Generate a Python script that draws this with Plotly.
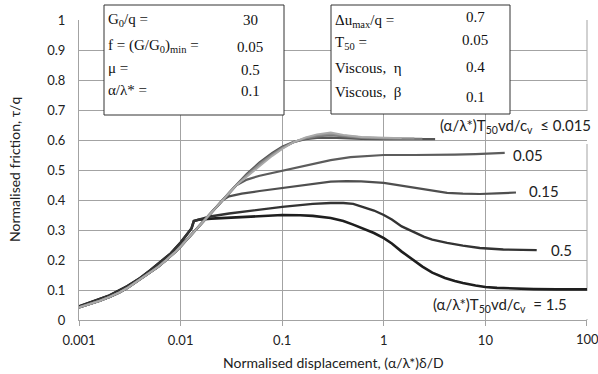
import plotly.graph_objects as go

# ---------------- data ----------------
x_ticks = [0.001, 0.01, 0.1, 1, 10, 100]
x_tick_text = ["0.001", "0.01", "0.1", "1", "10", "100"]
y_ticks = [0, 0.1, 0.2, 0.3, 0.4, 0.5, 0.6, 0.7, 0.8, 0.9, 1]
y_tick_text = ["0", "0.1", "0.2", "0.3", "0.4", "0.5", "0.6", "0.7", "0.8", "0.9", "1"]

# common rising branch (grey bundle)
x_rise = [0.001, 0.0013, 0.0016, 0.002, 0.0025, 0.003, 0.004, 0.005, 0.006, 0.007, 0.008, 0.009,
          0.01, 0.012, 0.014, 0.017, 0.02, 0.023, 0.026, 0.03, 0.035]
y_rise = [0.042, 0.053, 0.064, 0.077, 0.092, 0.107, 0.135, 0.158, 0.177, 0.196, 0.213, 0.229,
          0.245, 0.274, 0.300, 0.331, 0.358, 0.380, 0.400, 0.423, 0.448]

# rising branch for the dark (high rate) curves
x_rise_dark = [0.001, 0.0015, 0.002, 0.003, 0.004, 0.005, 0.0065, 0.008, 0.01, 0.012, 0.0128, 0.0135, 0.015]
y_rise_dark = [0.045, 0.066, 0.082, 0.113, 0.140, 0.165, 0.196, 0.222, 0.258, 0.290, 0.305, 0.330, 0.334]

# rate <= 0.015 bundle (several nearly coincident curves)
x_b1 = [0.045, 0.06, 0.08, 0.1, 0.13, 0.17, 0.22, 0.3, 0.4, 0.6, 1, 2, 3.2]
y_b1 = [0.487, 0.525, 0.557, 0.577, 0.594, 0.603, 0.607, 0.608, 0.606, 0.604, 0.603, 0.603, 0.603]
x_b2 = [0.045, 0.06, 0.08, 0.1, 0.13, 0.17, 0.22, 0.3, 0.4, 0.6, 1, 2.4]
y_b2 = [0.484, 0.521, 0.553, 0.574, 0.593, 0.605, 0.612, 0.616, 0.612, 0.607, 0.605, 0.604]
x_b3 = [0.045, 0.06, 0.08, 0.1, 0.13, 0.17, 0.22, 0.3, 0.4, 0.6, 1, 2.0]
y_b3 = [0.481, 0.518, 0.550, 0.572, 0.593, 0.607, 0.616, 0.621, 0.615, 0.609, 0.606, 0.605]
x_b4 = [0.045, 0.06, 0.08, 0.1, 0.13, 0.17, 0.22, 0.3, 0.4, 0.6, 1, 1.5]
y_b4 = [0.478, 0.515, 0.547, 0.570, 0.593, 0.609, 0.619, 0.625, 0.617, 0.610, 0.607, 0.606]

# rate 0.05
x_r005 = [0.045, 0.06, 0.08, 0.1, 0.15, 0.2, 0.3, 0.47, 0.7, 1, 2, 3, 5, 8, 15.5]
y_r005 = [0.468, 0.481, 0.490, 0.497, 0.510, 0.520, 0.533, 0.543, 0.548, 0.550, 0.550, 0.550, 0.551, 0.553, 0.557]

# rate 0.15
x_r015 = [0.03, 0.04, 0.06, 0.1, 0.15, 0.2, 0.3, 0.43, 0.6, 1, 1.4, 1.94, 3, 4.2, 6, 8.8, 13, 20]
y_r015 = [0.412, 0.421, 0.430, 0.440, 0.449, 0.455, 0.461, 0.463, 0.462, 0.457, 0.449, 0.440, 0.430,
          0.424, 0.421, 0.420, 0.422, 0.425]

# rate 0.5
x_r05 = [0.0195, 0.03, 0.05, 0.07, 0.1, 0.15, 0.2, 0.3, 0.4, 0.5, 0.62, 0.8, 1, 1.2, 1.5, 1.94, 2.5,
         3, 4.2, 6, 8.8, 15, 32]
y_r05 = [0.345, 0.355, 0.365, 0.371, 0.377, 0.383, 0.387, 0.390, 0.390, 0.387, 0.378, 0.365, 0.350,
         0.335, 0.312, 0.293, 0.277, 0.268, 0.257, 0.248, 0.240, 0.235, 0.233]

# rate 1.5
x_r15 = [0.02, 0.03, 0.05, 0.07, 0.1, 0.15, 0.2, 0.3, 0.4, 0.5, 0.62, 0.8, 1, 1.2, 1.5, 1.94, 2.4, 3,
         4, 5, 6, 8, 10, 13, 20, 30, 50, 100]
y_r15 = [0.338, 0.341, 0.345, 0.348, 0.350, 0.349, 0.347, 0.340, 0.330, 0.318, 0.305, 0.290, 0.273,
         0.255, 0.228, 0.200, 0.178, 0.158, 0.140, 0.130, 0.123, 0.115, 0.110, 0.107, 0.104, 0.103,
         0.102, 0.102]

params_left = ["G<sub>0</sub>/q =", "f = (G/G<sub>0</sub>)<sub>min</sub> =", "μ =", "α/λ* ="]
values_left = ["30", "0.05", "0.5", "0.1"]
params_right = ["Δu<sub>max</sub>/q =", "T<sub>50</sub> =", "Viscous,  η", "Viscous,  β"]
values_right = ["0.7", "0.05", "0.4", "0.1"]

# ---------------- geometry helpers (pixels -> paper) ----------------
L, R, T, B = 79, 587, 20, 320
def px(x):
    return (x - L) / (R - L)
def py(y):
    return (B - y) / (B - T)

fig = go.Figure()

def add(xs, ys, color, width):
    fig.add_trace(go.Scatter(x=xs, y=ys, mode="lines",
                             line=dict(color=color, width=width),
                             hoverinfo="skip", showlegend=False))

# dark curves
add(x_rise_dark + x_r15, y_rise_dark + y_r15, "#1e1e1e", 2.6)
add(x_rise_dark + x_r05, y_rise_dark + y_r05, "#333333", 2.4)
# grey curves
add(x_rise[:19] + x_r015, y_rise[:19] + y_r015, "#4f4f4f", 2.2)
add(x_rise + x_r005, y_rise + y_r005, "#5c5c5c", 2.2)
add(x_rise + x_b1, y_rise + y_b1, "#555555", 2.4)
add(x_rise + x_b2, y_rise + y_b2, "#7a7a7a", 2.2)
add(x_rise + x_b3, y_rise + y_b3, "#8f8f8f", 2.0)
add(x_rise + x_b4, y_rise + y_b4, "#aaaaaa", 1.8)

shapes = []
annotations = []

grid = "#a3a3a3"

# right-hand border grid line (x = 100)
shapes.append(dict(type="line", xref="paper", yref="paper", x0=1, x1=1, y0=0, y1=1,
                   line=dict(color=grid, width=1), layer="below"))

# white boxes behind rate labels (hide grid lines)
label_boxes = [(435, 111, 598, 144), (512, 141, 544, 171), (517, 178, 570, 203),
               (538, 238, 586, 262), (433, 291, 592, 319)]
for x0, y0, x1, y1 in label_boxes:
    shapes.append(dict(type="rect", xref="paper", yref="paper", x0=px(x0), x1=px(x1),
                       y0=py(y1), y1=py(y0), fillcolor="white", line=dict(width=0),
                       layer="between"))

# parameter boxes
for x0, y0, x1, y1 in [(104, 5, 284, 115), (331, 5, 510, 114)]:
    shapes.append(dict(type="rect", xref="paper", yref="paper", x0=px(x0), x1=px(x1),
                       y0=py(y1), y1=py(y0), fillcolor="white",
                       line=dict(color="#333333", width=1), layer="above"))

serif = dict(family="Liberation Serif, Times New Roman, serif", size=15, color="#111111")
left_rows_y = [20, 46, 68, 90]
left_vals_y = [20, 47, 70, 91]
for t, v, yl, yv in zip(params_left, values_left, left_rows_y, left_vals_y):
    annotations.append(dict(text=t, xref="paper", yref="paper", x=px(106), y=py(yl),
                            xanchor="left", yanchor="middle", showarrow=False, font=serif))
    annotations.append(dict(text=v, xref="paper", yref="paper", x=px(250), y=py(yv),
                            xanchor="center", yanchor="middle", showarrow=False, font=serif))
right_rows_y = [21, 43, 68, 92]
right_vals_y = [17, 40, 67, 97]
for t, v, yl, yv in zip(params_right, values_right, right_rows_y, right_vals_y):
    annotations.append(dict(text=t, xref="paper", yref="paper", x=px(333), y=py(yl),
                            xanchor="left", yanchor="middle", showarrow=False, font=serif))
    annotations.append(dict(text=v, xref="paper", yref="paper", x=px(475), y=py(yv),
                            xanchor="center", yanchor="middle", showarrow=False, font=serif))

sans = dict(family="Lato, Open Sans, sans-serif", size=15, color="#222222")
rate_labels = [
    ("(α/λ*)T<sub>50</sub>vd/c<sub>v</sub>  ≤ 0.015", 515, 126),
    ("0.05", 528, 155),
    ("0.15", 544, 191),
    ("0.5", 561, 250),
    ("(α/λ*)T<sub>50</sub>vd/c<sub>v</sub>  = 1.5", 500, 305),
]
for t, x, y in rate_labels:
    annotations.append(dict(text=t, xref="paper", yref="paper", x=px(x), y=py(y),
                            xanchor="center", yanchor="middle", showarrow=False, font=sans))

axis_font = dict(family="Lato, Open Sans, sans-serif", size=14, color="#222222")
tick_font = dict(family="Lato, Open Sans, sans-serif", size=13, color="#222222")
annotations.append(dict(text="Normalised displacement, (α/λ*)δ/D", xref="paper", yref="paper",
                        x=px(333), y=py(362), xanchor="center", yanchor="middle",
                        showarrow=False, font=axis_font))
annotations.append(dict(text="Normalised friction, τ/q", xref="paper", yref="paper",
                        x=px(14), y=py(170), xanchor="center", yanchor="middle",
                        textangle=-90, showarrow=False, font=axis_font))
# the last x tick label sits on the right edge of the page; draw it as text
annotations.append(dict(text=x_tick_text[-1], xref="paper", yref="paper",
                        x=1, y=py(339), xanchor="center", yanchor="middle",
                        showarrow=False, font=tick_font))

fig.update_layout(
    width=598, height=374, autosize=False,
    margin=dict(l=L, r=598 - R, t=T, b=374 - B, pad=0),
    paper_bgcolor="white", plot_bgcolor="white",
    shapes=shapes, annotations=annotations,
    xaxis=dict(type="log", range=[-3.0002, 2.0002], tickvals=x_ticks, ticktext=x_tick_text[:-1] + [""],
               showgrid=True, gridcolor=grid, gridwidth=1,
               showline=True, linecolor=grid, linewidth=1,
               ticks="outside", ticklen=5, tickcolor=grid, ticklabelstandoff=3,
               automargin=False,
               tickfont=tick_font,
               zeroline=False, fixedrange=True),
    yaxis=dict(range=[0, 1], tickvals=y_ticks, ticktext=y_tick_text,
               showgrid=True, gridcolor=grid, gridwidth=1,
               showline=True, linecolor=grid, linewidth=1,
               ticks="", ticklabelstandoff=10, automargin=False,
               tickfont=tick_font,
               zeroline=False, fixedrange=True),
)

fig.write_html("out.html")
